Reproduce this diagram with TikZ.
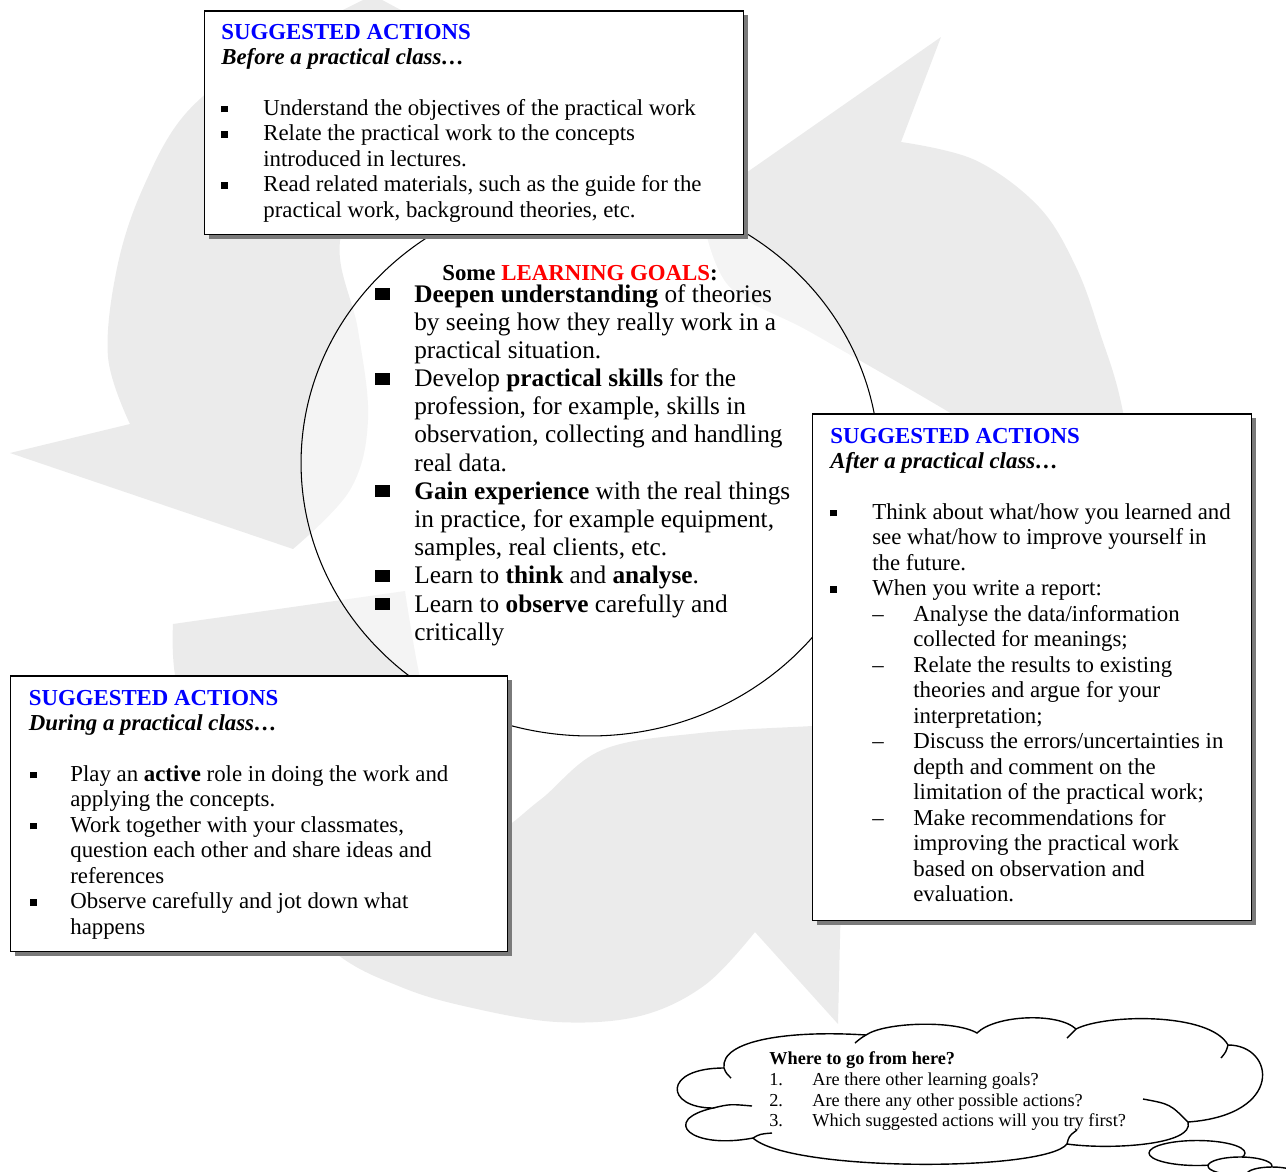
\documentclass[tikz,border=0pt]{standalone}
\usepackage{fontspec}
\setmainfont{Liberation Serif}
\usetikzlibrary{shapes.geometric,shadows}

\definecolor{arrowgray}{HTML}{EBEBEB}
\definecolor{headblue}{HTML}{0000FF}
\definecolor{goalred}{HTML}{FF0000}
\definecolor{shadowgray}{HTML}{7A7A7A}

% list markers
\newcommand\sqbullet{\rule[1.7pt]{3.7pt}{3.8pt}}
\newcommand\bigsq{\rule[1.1pt]{8.4pt}{6.8pt}}
\newcommand\boxfont{\fontsize{13pt}{14.5pt}\selectfont}

\begin{document}
\begin{tikzpicture}[x=0.02cm, y=-0.02cm,
  txt/.style={inner sep=0pt, anchor=base west},
  actbox/.style={draw=black, line width=0.85pt, fill=white, inner sep=0pt,
    anchor=north west,
    drop shadow={shadow xshift=2.6pt, shadow yshift=-2.6pt, fill=shadowgray, opacity=1}},
  goalring/.style={ellipse, draw=black, line width=0.6pt, fill=white,
    fill opacity=0.45, inner sep=0pt},
  cloudline/.style={draw=black, line width=0.8pt},
  swirl/.style={fill=arrowgray}
]
\useasboundingbox (0,0) rectangle (1286,1171);

% ---- three curved background arrows ----
% left arrow (head pointing left)
\fill[swirl] (360,-12) -- (363,0)
  -- plot[smooth, tension=0.6] coordinates {(363,0) (265,52) (187,112) (143,188) (117,268) (108,357) (130,424)}
  -- (10,453) -- (293,549)
  -- plot[smooth, tension=0.6] coordinates {(293,549) (350,490) (368,420) (358,330) (340,241) (380,150) (440,80) (475,50)}
  -- cycle;
% upper right arrow (head pointing up)
\fill[swirl] (1145,560)
  -- plot[smooth, tension=0.6] coordinates {(1145,560) (1123,412) (1100,333) (1076,267) (1039,207) (975,160) (901,142)}
  -- (941,37) -- (700,205)
  -- plot[smooth, tension=0.6] coordinates {(700,205) (728,285) (812,333) (942,408) (1060,480)}
  -- cycle;
% bottom arrow (head pointing down)
\fill[swirl] (173,624) -- (405,591)
  -- plot[smooth, tension=0.6] coordinates {(405,591) (425,700) (460,800) (495,830) (540,800) (602,750) (700,733) (812,726) (845,724)}
  -- (838,1024) -- (755,932)
  -- plot[smooth, tension=0.6] coordinates {(755,932) (705,985) (640,1016) (557,1022) (468,1007) (401,987) (334,952) (250,870) (195,760) (175,675) (173,624)}
  -- cycle;

% ---- central ring with the learning goals ----
\node[goalring, minimum width=11.56cm, minimum height=10.92cm] (goals) at (590,463) {};

\node[txt] (goalhead) at (442,280.5)
  {\fontsize{13pt}{15pt}\selectfont\bfseries Some \textcolor{goalred}{LEARNING GOALS}:};
\node[txt] (goallist) at (375,302) {\fontsize{14.4pt}{16.04pt}\selectfont
  \begin{tabular}[t]{@{}p{0.78cm}@{}l@{}}
  \bigsq & \textbf{Deepen understanding} of theories\\
         & by seeing how they really work in a\\
         & practical situation.\\
  \bigsq & Develop \textbf{practical skills} for the\\
         & profession, for example, skills in\\
         & observation, collecting and handling\\
         & real data.\\
  \bigsq & \textbf{Gain experience} with the real things\\
         & in practice, for example equipment,\\
         & samples, real clients, etc.\\
  \bigsq & Learn to \textbf{think} and \textbf{analyse}.\\
  \bigsq & Learn to \textbf{observe} carefully and\\
         & critically
  \end{tabular}};

% ---- action boxes ----
\node[actbox, minimum width=10.78cm, minimum height=4.48cm] (before) at (204,10) {};
\node[txt] (beforetxt) at (221,39) {\boxfont
  \begin{tabular}[t]{@{}p{0.84cm}@{}l@{}}
  \multicolumn{2}{@{}l@{}}{\color{headblue}\bfseries SUGGESTED ACTIONS}\\
  \multicolumn{2}{@{}l@{}}{\bfseries\itshape Before a practical class…}\\
  \\
  \sqbullet & Understand the objectives of the practical work\\
  \sqbullet & Relate the practical work to the concepts\\
            & introduced in lectures.\\
  \sqbullet & Read related materials, such as the guide for the\\
            & practical work, background theories, etc.
  \end{tabular}};

\node[actbox, minimum width=8.78cm, minimum height=10.14cm] (after) at (812,413) {};
\node[txt] (aftertxt) at (830,443) {\boxfont
  \begin{tabular}[t]{@{}p{0.84cm}@{}p{0.82cm}@{}l@{}}
  \multicolumn{3}{@{}l@{}}{\color{headblue}\bfseries SUGGESTED ACTIONS}\\
  \multicolumn{3}{@{}l@{}}{\bfseries\itshape After a practical class…}\\
  \\
  \sqbullet & \multicolumn{2}{@{}l@{}}{Think about what/how you learned and}\\
            & \multicolumn{2}{@{}l@{}}{see what/how to improve yourself in}\\
            & \multicolumn{2}{@{}l@{}}{the future.}\\
  \sqbullet & \multicolumn{2}{@{}l@{}}{When you write a report:}\\
            & – & Analyse the data/information\\
            &   & collected for meanings;\\
            & – & Relate the results to existing\\
            &   & theories and argue for your\\
            &   & interpretation;\\
            & – & Discuss the errors/uncertainties in\\
            &   & depth and comment on the\\
            &   & limitation of the practical work;\\
            & – & Make recommendations for\\
            &   & improving the practical work\\
            &   & based on observation and\\
            &   & evaluation.
  \end{tabular}};

\node[actbox, minimum width=9.94cm, minimum height=5.52cm] (during) at (10,675) {};
\node[txt] (duringtxt) at (28.5,705) {\boxfont
  \begin{tabular}[t]{@{}p{0.83cm}@{}l@{}}
  \multicolumn{2}{@{}l@{}}{\color{headblue}\bfseries SUGGESTED ACTIONS}\\
  \multicolumn{2}{@{}l@{}}{\bfseries\itshape During a practical class…}\\
  \\
  \hspace{0.8pt}\sqbullet & Play an \textbf{active} role in doing the work and\\
            & applying the concepts.\\
  \hspace{0.8pt}\sqbullet & Work together with your classmates,\\
            & question each other and share ideas and\\
            & references\\
  \hspace{0.8pt}\sqbullet & Observe carefully and jot down what\\
            & happens
  \end{tabular}};

% ---- thought cloud ----
\filldraw[cloudline, fill=white] (724,1068)
  .. controls (720,1040) and (790,1030) .. (866,1035)
  .. controls (885,1022) and (955,1020) .. (977,1033)
  .. controls (995,1015) and (1058,1012) .. (1076,1029)
  .. controls (1105,1014) and (1210,1012) .. (1228,1045)
  .. controls (1275,1045) and (1285,1115) .. (1188,1122)
  .. controls (1195,1145) and (1110,1150) .. (1067,1144)
  .. controls (1045,1172) and (790,1172) .. (753,1138)
  .. controls (690,1150) and (660,1120) .. (713,1108)
  .. controls (665,1108) and (662,1068) .. (724,1068)
  -- cycle;
% inner curls of the cloud lobes
\draw[cloudline] (724,1068) .. controls (726,1073) .. (731,1078);
\draw[cloudline] (713,1108) .. controls (730,1104) .. (752,1106);
\draw[cloudline] (753,1138) .. controls (760,1134) .. (772,1133);
\draw[cloudline] (1067,1144) .. controls (1069,1136) .. (1077,1130);
\draw[cloudline] (1188,1122) .. controls (1170,1104) .. (1143,1099);
\draw[cloudline] (1076,1029) .. controls (1072,1033) .. (1067,1038);
\draw[cloudline] (866,1035) .. controls (861,1038) .. (855,1043);
\draw[cloudline] (1228,1045) .. controls (1226,1052) .. (1221,1058);
% trailing bubbles
\filldraw[cloudline, fill=white] (1197,1153) ellipse [x radius=0.96cm, y radius=0.25cm];
\filldraw[cloudline, fill=white] (1240,1166) ellipse [x radius=0.64cm, y radius=0.18cm];
\filldraw[cloudline, fill=white] (1272,1174) ellipse [x radius=0.5cm, y radius=0.14cm];

\node[txt] (wheretxt) at (769,1064) {\fontsize{10.4pt}{11.4pt}\selectfont
  \begin{tabular}[t]{@{}p{0.86cm}@{}l@{}}
  \multicolumn{2}{@{}l@{}}{\bfseries Where to go from here?}\\[1.1pt]
  1. & Are there other learning goals?\\
  2. & Are there any other possible actions?\\
  3. & Which suggested actions will you try first?
  \end{tabular}};
\end{tikzpicture}
\end{document}
